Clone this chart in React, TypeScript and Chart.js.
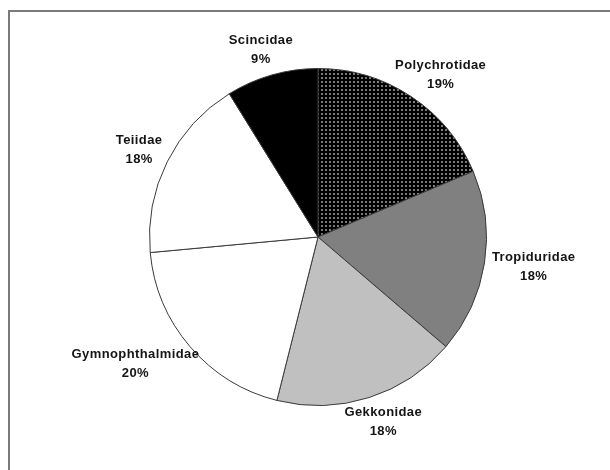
import { useEffect, useRef } from "react";
import { Chart, registerables } from "chart.js";

Chart.register(...registerables);

// families, clockwise from 12 o'clock
const families = [
  "Polychrotidae",
  "Tropiduridae",
  "Gekkonidae",
  "Gymnophthalmidae",
  "Teiidae",
  "Scincidae",
];
const percents = [19, 18, 18, 20, 18, 9];

const makeDots = () => {
  const tile = document.createElement("canvas");
  tile.width = 4;
  tile.height = 4;
  const t = tile.getContext("2d") as CanvasRenderingContext2D;
  t.fillStyle = "#000000";
  t.fillRect(0, 0, 4, 4);
  t.fillStyle = "#7a7a7a";
  t.fillRect(1, 1, 2, 2);
  return t.createPattern(tile, "repeat") as CanvasPattern;
};

const labelFont = "bold 13px 'Liberation Sans', Arial, sans-serif";

const outsideLabels = {
  id: "outsideLabels",
  afterDraw: (chart: any) => {
    const { ctx } = chart;
    const meta = chart.getDatasetMeta(0);
    ctx.save();
    ctx.font = labelFont;
    ctx.fillStyle = "#141414";
    ctx.textAlign = "center";
    ctx.textBaseline = "middle";
    (ctx as any).letterSpacing = "0.4px";
    meta.data.forEach((arc: any, i: number) => {
      const { x, y, startAngle, endAngle, outerRadius } = arc.getProps(
        ["x", "y", "startAngle", "endAngle", "outerRadius"],
        true
      );
      const mid = (startAngle + endAngle) / 2;
      const ux = Math.cos(mid);
      const uy = Math.sin(mid);
      const line1 = families[i];
      const line2 = `${percents[i]}%`;
      const halfW = Math.max(ctx.measureText(line1).width, ctx.measureText(line2).width) / 2;
      const halfH = 18;
      const d = outerRadius + 8;
      const cx = x + d * ux + ux * halfW;
      const cy = y + d * uy + uy * halfH;
      ctx.fillText(line1, cx, cy - 9.5);
      ctx.fillText(line2, cx, cy + 9.5);
    });
    ctx.restore();
  },
};

const App = () => {
  const canvasRef = useRef<HTMLCanvasElement>(null);
  const chartRef = useRef<Chart | null>(null);

  useEffect(() => {
    document.body.style.margin = "0";
    if (chartRef.current) chartRef.current.destroy();
    const ctx = (canvasRef.current as HTMLCanvasElement).getContext("2d") as CanvasRenderingContext2D;

    chartRef.current = new Chart(ctx, {
      type: "pie",
      data: {
        labels: families,
        datasets: [
          {
            data: percents,
            backgroundColor: [makeDots(), "#808080", "#c0c0c0", "#ffffff", "#ffffff", "#000000"],
            borderColor: "#3a3a3a",
            borderWidth: 1,
          },
        ],
      },
      options: {
        responsive: false,
        animation: false,
        layout: {
          padding: { top: 68, bottom: 64, left: 149, right: 123 },
        },
        plugins: {
          legend: { display: false },
          tooltip: { enabled: false },
        },
      },
      plugins: [outsideLabels],
    });

    return () => {
      if (chartRef.current) {
        chartRef.current.destroy();
        chartRef.current = null;
      }
    };
  }, []);

  return (
    <div style={{ position: "relative", width: 610, height: 470, background: "#fff", overflow: "hidden" }}>
      <div
        style={{
          position: "absolute",
          left: 8,
          top: 10,
          right: -10,
          bottom: -10,
          borderLeft: "2px solid #7a7a7a",
          borderTop: "2px solid #7a7a7a",
        }}
      />
      <canvas
        ref={canvasRef}
        width={610}
        height={470}
        style={{ position: "absolute", left: 0, top: 0, width: 610, height: 470 }}
      />
    </div>
  );
};

export default App;
